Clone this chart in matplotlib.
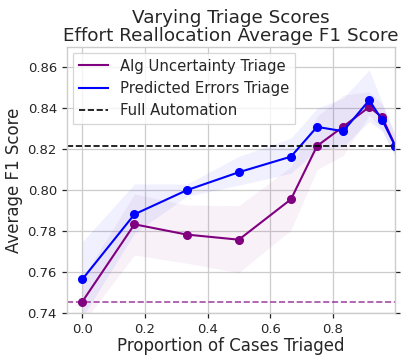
import matplotlib
matplotlib.use("Agg")
import matplotlib.pyplot as plt
from matplotlib.lines import Line2D
import numpy as np

# Data
x = [0.0, 1/6, 1/3, 1/2, 2/3, 3/4, 5/6, 11/12, 23/24, 1.0]
alg_unc = [0.7457, 0.7834, 0.7784, 0.7759, 0.7956, 0.8216, 0.8310, 0.8406, 0.8356, 0.8216]
alg_unc_lo = [0.735, 0.7684, 0.7644, 0.7598, 0.7806, 0.810, 0.817, 0.8367, 0.829, 0.8164]
alg_unc_hi = [0.757, 0.7982, 0.7928, 0.7925, 0.8115, 0.836, 0.8465, 0.848, 0.842, 0.827]
pred_err = [0.7566, 0.7883, 0.8000, 0.8088, 0.8164, 0.8309, 0.8288, 0.8439, 0.8342, 0.8215]
pred_err_lo = [0.738, 0.779, 0.797, 0.8025, 0.8083, 0.8197, 0.8213, 0.8335, 0.829, 0.8164]
pred_err_hi = [0.7749, 0.8031, 0.8030, 0.8165, 0.8254, 0.840, 0.8449, 0.8587, 0.8426, 0.827]
full_automation = 0.8215
full_human = 0.7457

title = "Varying Triage Scores\nEffort Reallocation Average F1 Score"
xlabel = "Proportion of Cases Triaged"
ylabel = "Average F1 Score"
xticks = [0.0, 0.2, 0.4, 0.6, 0.8]
yticks = [0.74, 0.76, 0.78, 0.80, 0.82, 0.84, 0.86]
legend_labels = ["Alg Uncertainty Triage", "Predicted Errors Triage", "Full Automation"]

text_color = "#262626"
plt.rcParams['font.family'] = ['DejaVu Sans']

fig = plt.figure(figsize=(4.15, 3.63), dpi=100)
ax = fig.add_axes([0.1607, 0.1369, 0.9525 - 0.1607, 0.8713 - 0.1369])

ax.fill_between(x, alg_unc_lo, alg_unc_hi, color="purple", alpha=0.05, linewidth=0)
ax.fill_between(x, pred_err_lo, pred_err_hi, color="blue", alpha=0.06, linewidth=0)

ax.plot(x, alg_unc, color="purple", lw=1.5, marker="o", ms=5.5)
ax.plot(x, pred_err, color="blue", lw=1.5, marker="o", ms=5.5)
ax.axhline(full_automation, color="black", ls="--", lw=1.2)
ax.axhline(full_human, color="purple", ls="--", lw=1.2, alpha=0.7)

ax.set_xlim(-0.05, 1.0)
ax.set_ylim(0.74, 0.87)
ax.set_xticks(xticks)
ax.set_yticks(yticks)
ax.set_xticklabels([f"{t:.1f}" for t in xticks])
ax.set_yticklabels([f"{t:.2f}" for t in yticks])

ax.grid(True, color="#cccccc", lw=0.9)
ax.set_axisbelow(True)
for s in ax.spines.values():
    s.set_color("#cccccc")
    s.set_linewidth(1.0)

ax.tick_params(axis="both", direction="out", length=3.5, width=0.9, color="#262626",
               labelsize=9.5, labelcolor=text_color)
ax.tick_params(axis="y", right=True)

ax.set_title(title, fontsize=13.2, color=text_color, pad=4, linespacing=1.0)
ax.set_xlabel(xlabel, fontsize=12, color=text_color, labelpad=1)
ax.set_ylabel(ylabel, fontsize=12, color=text_color, labelpad=3)

handles = [Line2D([], [], color="purple", lw=1.5),
           Line2D([], [], color="blue", lw=1.5),
           Line2D([], [], color="black", ls="--", lw=1.2)]
leg = ax.legend(handles, legend_labels, loc="upper left", fontsize=10.7, frameon=True,
                fancybox=False, edgecolor="#cccccc", borderaxespad=0.4, handlelength=2.0)
leg.get_frame().set_linewidth(0.9)
for t in leg.get_texts():
    t.set_color(text_color)

fig.savefig("out.png", dpi=100)
